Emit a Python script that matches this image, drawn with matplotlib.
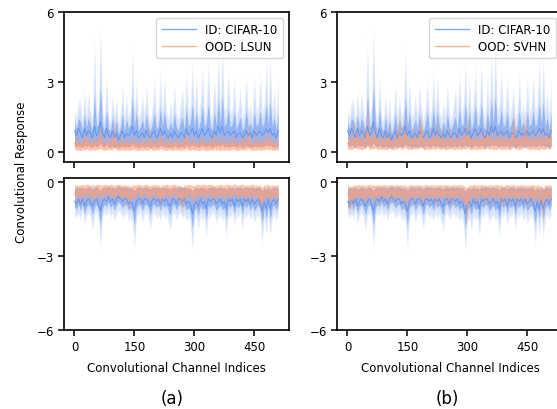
import numpy as np
import matplotlib
matplotlib.use("Agg")
import matplotlib.pyplot as plt

# channel indices (every 5th channel)
channels = np.arange(0, 515, 5)

# --- positive responses (top panels) ---
id_pos_mean = [
    0.9, 0.7, 1.0, 0.8, 0.6, 1.0, 0.7, 0.9, 0.8, 0.6,
    1.1, 0.7, 0.8, 1.3, 0.8, 0.6, 1.0, 0.7, 0.6, 0.9,
    0.6, 0.8, 0.5, 0.7, 0.9, 0.6, 0.8, 0.7, 0.8, 1.1,
    0.7, 0.9, 0.6, 0.7, 0.8, 0.6, 0.9, 0.7, 0.6, 0.8,
    0.9, 0.6, 0.7, 1.0, 0.7, 0.9, 0.7, 0.6, 0.8, 0.6,
    0.9, 0.7, 0.6, 0.8, 0.8, 0.6, 1.0, 0.7, 0.8, 1.0,
    0.7, 0.9, 0.6, 0.8, 1.0, 0.7, 0.8, 1.0, 0.7, 0.6,
    0.9, 0.7, 1.1, 0.8, 1.1, 0.7, 0.8, 0.9, 0.7, 0.8,
    0.9, 0.6, 0.8, 0.8, 0.6, 0.7, 0.9, 0.7, 0.8, 0.6,
    0.9, 0.7, 0.8, 0.9, 0.7, 0.8, 1.0, 0.8, 1.0, 0.7,
    0.8, 0.6, 0.9]
id_pos_peak = [
    1.9, 1.5, 2.3, 2.2, 1.4, 2.7, 1.6, 2.6, 1.8, 1.5,
    4.9, 1.7, 2.0, 5.5, 1.8, 1.5, 3.3, 1.6, 1.4, 2.6,
    1.5, 2.4, 1.3, 1.7, 3.0, 1.5, 2.5, 1.6, 1.9, 4.5,
    1.7, 3.2, 1.5, 1.8, 2.5, 1.6, 3.0, 1.7, 1.4, 2.0,
    3.2, 1.6, 1.9, 3.5, 1.7, 3.3, 1.8, 1.5, 2.2, 1.6,
    3.0, 1.7, 1.5, 2.1, 2.8, 1.6, 3.5, 1.8, 2.0, 4.0,
    1.7, 3.4, 1.6, 2.2, 3.8, 1.7, 2.0, 4.0, 1.8, 1.6,
    3.3, 1.9, 4.3, 2.0, 4.8, 1.8, 2.1, 3.6, 1.7, 1.9,
    3.3, 1.6, 2.0, 2.8, 1.5, 1.9, 3.4, 1.7, 2.1, 1.6,
    3.3, 1.8, 2.0, 3.4, 1.7, 2.2, 4.0, 1.9, 4.2, 1.8,
    2.7, 1.6, 3.2]

lsun_pos_mean = [
    0.35, 0.25, 0.3, 0.2, 0.35, 0.25, 0.45, 0.3, 0.2, 0.35,
    0.25, 0.3, 0.35, 0.55, 0.25, 0.2, 0.3, 0.35, 0.25, 0.3,
    0.6, 0.3, 0.2, 0.25, 0.35, 0.2, 0.3, 0.25, 0.2, 0.35,
    0.3, 0.25, 0.2, 0.3, 0.25, 0.35, 0.2, 0.3, 0.45, 0.25,
    0.2, 0.35, 0.25, 0.45, 0.3, 0.25, 0.2, 0.35, 0.25, 0.2,
    0.3, 0.25, 0.35, 0.2, 0.3, 0.25, 0.5, 0.3, 0.2, 0.35,
    0.25, 0.3, 0.2, 0.25, 0.35, 0.3, 0.2, 0.25, 0.3, 0.2,
    0.45, 0.25, 0.3, 0.2, 0.35, 0.25, 0.3, 0.2, 0.25, 0.35,
    0.3, 0.2, 0.25, 0.3, 0.35, 0.25, 0.3, 0.55, 0.25, 0.2,
    0.3, 0.25, 0.35, 0.2, 0.3, 0.25, 0.45, 0.3, 0.35, 0.25,
    0.2, 0.3, 0.25]
lsun_pos_peak = [
    0.9, 0.7, 0.8, 0.6, 0.9, 0.7, 1.1, 0.8, 0.6, 0.9,
    0.7, 0.8, 0.9, 1.45, 0.7, 0.6, 0.8, 0.9, 0.7, 0.8,
    1.7, 0.8, 0.6, 0.7, 0.9, 0.6, 0.8, 0.7, 0.6, 0.9,
    0.8, 0.7, 0.6, 0.8, 0.7, 0.9, 0.6, 0.8, 1.2, 0.7,
    0.6, 0.9, 0.7, 1.2, 0.8, 0.7, 0.6, 0.9, 0.7, 0.6,
    0.8, 0.7, 0.9, 0.6, 0.8, 0.7, 1.4, 0.8, 0.6, 0.9,
    0.7, 0.8, 0.6, 0.7, 0.9, 0.8, 0.6, 0.7, 0.8, 0.6,
    1.2, 0.7, 0.8, 0.6, 0.9, 0.7, 0.8, 0.6, 0.7, 0.9,
    0.8, 0.6, 0.7, 0.8, 0.9, 0.7, 0.8, 1.5, 0.7, 0.6,
    0.8, 0.7, 0.9, 0.6, 0.8, 0.7, 1.2, 0.8, 0.9, 0.7,
    0.6, 0.8, 0.7]

svhn_pos_mean = [
    0.35, 0.4, 0.3, 0.5, 0.6, 0.35, 0.45, 0.3, 0.4, 0.5,
    0.85, 0.35, 0.45, 0.4, 0.6, 0.3, 0.4, 0.35, 0.45, 0.3,
    0.4, 0.5, 0.35, 0.3, 0.45, 0.4, 0.75, 0.35, 0.45, 0.7,
    0.35, 0.4, 0.3, 0.45, 0.35, 0.5, 0.4, 0.8, 0.35, 0.3,
    0.45, 0.35, 0.4, 0.5, 0.3, 0.6, 0.35, 0.4, 0.45, 0.3,
    0.35, 0.4, 0.5, 0.3, 0.35, 0.45, 0.4, 0.3, 0.5, 0.35,
    0.7, 0.4, 0.3, 0.45, 0.35, 0.4, 0.3, 0.5, 0.35, 0.4,
    0.6, 0.35, 0.45, 0.3, 0.4, 0.35, 0.5, 0.3, 0.4, 0.35,
    0.45, 0.3, 0.4, 0.75, 0.35, 0.45, 0.3, 0.4, 0.5, 0.7,
    0.35, 0.4, 0.3, 0.45, 0.35, 0.4, 0.3, 0.5, 0.35, 0.4,
    0.55, 0.35, 0.6]
svhn_pos_peak = [
    0.9, 1.0, 0.8, 1.2, 1.6, 0.9, 1.1, 0.8, 1.0, 1.2,
    2.45, 0.9, 1.1, 1.0, 1.5, 0.8, 1.0, 0.9, 1.1, 0.8,
    1.0, 1.2, 0.9, 0.8, 1.1, 1.0, 2.0, 0.9, 1.1, 1.8,
    0.9, 1.0, 0.8, 1.1, 0.9, 1.2, 1.0, 2.2, 0.9, 0.8,
    1.1, 0.9, 1.0, 1.2, 0.8, 1.6, 0.9, 1.0, 1.1, 0.8,
    0.9, 1.0, 1.2, 0.8, 0.9, 1.1, 1.0, 0.8, 1.2, 0.9,
    1.9, 1.0, 0.8, 1.1, 0.9, 1.0, 0.8, 1.2, 0.9, 1.0,
    1.5, 0.9, 1.1, 0.8, 1.0, 0.9, 1.2, 0.8, 1.0, 0.9,
    1.1, 0.8, 1.0, 2.0, 0.9, 1.1, 0.8, 1.0, 1.2, 1.9,
    0.9, 1.0, 0.8, 1.1, 0.9, 1.0, 0.8, 1.2, 0.9, 1.0,
    1.4, 0.9, 1.0]

# --- negative responses (bottom panels) ---
id_neg_mean = [
    -0.8, -0.9, -0.7, -0.9, -0.7, -1.0, -0.8, -0.7, -0.8, -1.0,
    -0.8, -0.7, -0.9, -1.2, -0.8, -0.7, -0.8, -0.6, -0.8, -0.7,
    -0.9, -0.7, -0.6, -0.7, -0.8, -0.7, -0.7, -0.9, -0.8, -0.9,
    -1.2, -0.8, -0.7, -0.7, -0.9, -0.7, -0.7, -0.8, -1.0, -0.7,
    -0.7, -0.8, -0.7, -0.9, -0.7, -0.8, -0.7, -0.9, -1.0, -0.7,
    -0.7, -0.9, -0.7, -0.7, -0.8, -0.7, -0.9, -0.8, -0.9, -1.3,
    -0.9, -0.8, -1.0, -0.7, -0.9, -0.8, -1.1, -0.7, -0.8, -0.7,
    -0.7, -0.9, -0.8, -0.7, -0.9, -0.8, -1.1, -0.7, -0.8, -0.7,
    -1.0, -0.7, -0.8, -0.7, -1.0, -0.7, -0.8, -0.7, -0.9, -0.7,
    -0.9, -0.8, -0.7, -0.9, -1.2, -0.8, -1.1, -0.7, -1.1, -0.8,
    -0.7, -0.9, -0.7]
id_neg_peak = [
    -1.4, -1.5, -1.3, -1.6, -1.2, -1.8, -1.4, -1.3, -1.5, -2.0,
    -1.4, -1.3, -1.6, -2.8, -1.5, -1.3, -1.4, -1.2, -1.5, -1.3,
    -1.6, -1.4, -1.2, -1.3, -1.5, -1.4, -1.3, -1.6, -1.5, -1.7,
    -2.8, -1.5, -1.4, -1.3, -1.7, -1.4, -1.3, -1.5, -2.0, -1.4,
    -1.3, -1.5, -1.4, -1.6, -1.3, -1.5, -1.4, -1.7, -2.0, -1.4,
    -1.3, -1.6, -1.4, -1.3, -1.5, -1.4, -1.6, -1.5, -1.7, -2.9,
    -1.6, -1.5, -2.0, -1.4, -1.6, -1.5, -2.3, -1.4, -1.5, -1.3,
    -1.4, -1.7, -1.5, -1.4, -1.6, -1.5, -2.3, -1.4, -1.5, -1.3,
    -1.8, -1.4, -1.5, -1.3, -2.0, -1.4, -1.5, -1.3, -1.6, -1.4,
    -1.7, -1.5, -1.4, -1.6, -2.6, -1.5, -2.2, -1.4, -2.3, -1.5,
    -1.4, -1.6, -1.3]

lsun_neg_mean = [
    -0.5, -0.4, -0.55, -0.45, -0.4, -0.5, -0.35, -0.4, -0.5, -0.45,
    -0.55, -0.4, -0.35, -0.5, -0.45, -0.35, -0.4, -0.5, -0.35, -0.45,
    -0.5, -0.4, -0.35, -0.45, -0.5, -0.4, -0.55, -0.5, -0.65, -0.45,
    -0.5, -0.4, -0.35, -0.45, -0.5, -0.4, -0.35, -0.5, -0.55, -0.45,
    -0.35, -0.45, -0.5, -0.65, -0.4, -0.5, -0.35, -0.45, -0.5, -0.4,
    -0.35, -0.5, -0.45, -0.55, -0.75, -0.45, -0.5, -0.35, -0.45, -0.55,
    -0.5, -0.45, -0.35, -0.5, -0.4, -0.35, -0.5, -0.45, -0.35, -0.4,
    -0.6, -0.45, -0.5, -0.35, -0.45, -0.5, -0.4, -0.35, -0.5, -0.45,
    -0.35, -0.45, -0.5, -0.4, -0.35, -0.5, -0.45, -0.55, -0.4, -0.35,
    -0.5, -0.45, -0.55, -0.5, -0.8, -0.45, -0.5, -0.4, -0.6, -0.45,
    -0.5, -0.4, -0.55]
lsun_neg_peak = [
    -0.9, -0.8, -1.0, -0.9, -0.8, -0.9, -0.7, -0.8, -0.9, -0.8,
    -1.0, -0.8, -0.7, -0.9, -0.8, -0.7, -0.8, -0.9, -0.7, -0.8,
    -0.9, -0.8, -0.7, -0.8, -0.9, -0.8, -1.0, -0.9, -1.2, -0.8,
    -0.9, -0.8, -0.7, -0.8, -0.9, -0.8, -0.7, -0.9, -1.0, -0.8,
    -0.7, -0.8, -0.9, -1.2, -0.8, -0.9, -0.7, -0.8, -0.9, -0.8,
    -0.7, -0.9, -0.8, -1.0, -1.5, -0.8, -0.9, -0.7, -0.8, -1.0,
    -0.9, -0.8, -0.7, -0.9, -0.8, -0.7, -0.9, -0.8, -0.7, -0.8,
    -1.1, -0.8, -0.9, -0.7, -0.8, -0.9, -0.8, -0.7, -0.9, -0.8,
    -0.7, -0.8, -0.9, -0.8, -0.7, -0.9, -0.8, -1.0, -0.8, -0.7,
    -0.9, -0.8, -1.0, -0.9, -1.6, -0.8, -0.9, -0.8, -1.1, -0.8,
    -0.9, -0.8, -1.0]

svhn_neg_mean = [
    -0.5, -0.55, -0.75, -0.45, -0.5, -0.45, -0.4, -0.5, -0.45, -0.55,
    -0.45, -0.4, -0.5, -0.45, -0.55, -0.4, -0.45, -0.5, -0.4, -0.45,
    -0.5, -0.45, -0.4, -0.5, -0.45, -0.4, -0.5, -0.45, -0.5, -0.55,
    -0.6, -0.45, -0.4, -0.5, -0.45, -0.4, -0.5, -0.45, -0.55, -0.4,
    -0.45, -0.5, -0.4, -0.45, -0.55, -0.45, -0.4, -0.5, -0.45, -0.4,
    -0.5, -0.45, -0.55, -0.4, -0.45, -0.5, -0.4, -0.45, -0.55, -0.6,
    -0.9, -0.45, -0.5, -0.4, -0.45, -0.5, -0.45, -0.4, -0.5, -0.45,
    -0.55, -0.4, -0.45, -0.5, -0.45, -0.4, -0.5, -0.45, -0.65, -0.45,
    -0.4, -0.5, -0.45, -0.4, -0.55, -0.45, -0.5, -0.4, -0.45, -0.5,
    -0.55, -0.45, -0.5, -0.4, -0.6, -0.45, -0.5, -0.65, -0.85, -0.45,
    -0.5, -0.4, -0.55]
svhn_neg_peak = [
    -1.0, -1.1, -1.45, -0.9, -1.0, -0.9, -0.8, -1.0, -0.9, -1.1,
    -0.9, -0.8, -1.0, -0.9, -1.1, -0.8, -0.9, -1.0, -0.8, -0.9,
    -1.0, -0.9, -0.8, -1.0, -0.9, -0.8, -1.0, -0.9, -1.0, -1.1,
    -1.2, -0.9, -0.8, -1.0, -0.9, -0.8, -1.0, -0.9, -1.1, -0.8,
    -0.9, -1.0, -0.8, -0.9, -1.1, -0.9, -0.8, -1.0, -0.9, -0.8,
    -1.0, -0.9, -1.1, -0.8, -0.9, -1.0, -0.8, -0.9, -1.1, -1.2,
    -2.0, -0.9, -1.0, -0.8, -0.9, -1.0, -0.9, -0.8, -1.0, -0.9,
    -1.1, -0.8, -0.9, -1.0, -0.9, -0.8, -1.0, -0.9, -1.3, -0.9,
    -0.8, -1.0, -0.9, -0.8, -1.1, -0.9, -1.0, -0.8, -0.9, -1.0,
    -1.1, -0.9, -1.0, -0.8, -1.2, -0.9, -1.0, -1.3, -1.8, -0.9,
    -1.0, -0.8, -1.1]

ID_COLOR = "#6495ED"
OOD_COLOR = "#FF9F78"

plt.rcParams["font.size"] = 8.5


def draw_band(ax, mean, peak, color, core_alpha, label=None):
    mean = np.asarray(mean)
    peak = np.asarray(peak)
    base = mean * 0.3
    # dense core band, then faint layers fading out towards the extremes
    ax.fill_between(channels, base, mean + 0.35 * (peak - mean),
                    color=color, alpha=core_alpha, lw=0)
    for k in (0.6, 0.85, 1.0):
        ax.fill_between(channels, base, mean + k * (peak - mean),
                        color=color, alpha=0.11, lw=0)
    ax.plot(channels, mean, color=color, lw=0.7, label=label)


def style_axis(ax, top):
    ax.set_xlim(-25.5, 536.5)
    ax.set_xticks([0, 150, 300, 450])
    if top:
        ax.set_ylim(-0.45, 6)
        ax.set_yticks([0, 3, 6])
        ax.tick_params(axis="x", labelbottom=False)
    else:
        ax.set_ylim(-6, 0.15)
        ax.set_yticks([-6, -3, 0])
    for s in ax.spines.values():
        s.set_linewidth(1.2)
    ax.tick_params(width=1.1, length=4)


fig = plt.figure(figsize=(5.57, 4.1), dpi=100)

lefts = [64.3 / 557, 337.3 / 557]
w = 224.5 / 557
top_ax = [fig.add_axes([l, 1 - 163.3 / 410, w, 150.6 / 410]) for l in lefts]
bot_ax = [fig.add_axes([l, 1 - 330.7 / 410, w, 151.7 / 410]) for l in lefts]

oods = [("OOD: LSUN", lsun_pos_mean, lsun_pos_peak, lsun_neg_mean, lsun_neg_peak),
        ("OOD: SVHN", svhn_pos_mean, svhn_pos_peak, svhn_neg_mean, svhn_neg_peak)]

for i, (name, pm, pp, nm, npk) in enumerate(oods):
    ax = top_ax[i]
    draw_band(ax, id_pos_mean, id_pos_peak, ID_COLOR, 0.55, "ID: CIFAR-10")
    draw_band(ax, pm, pp, OOD_COLOR, 0.45, name)
    style_axis(ax, True)
    leg = ax.legend(loc="upper right", fontsize=8.5, handlelength=2.9,
                    borderpad=0.45, labelspacing=0.35)
    for h in leg.get_lines():
        h.set_alpha(0.8)
        h.set_linewidth(1.0)

    ax = bot_ax[i]
    draw_band(ax, id_neg_mean, id_neg_peak, ID_COLOR, 0.55)
    draw_band(ax, nm, npk, OOD_COLOR, 0.45)
    style_axis(ax, False)

fig.text(22 / 557, 1 - 172 / 410, "Convolutional Response", rotation=90,
         ha="center", va="center", fontsize=8.5)
for cx in (176, 450):
    fig.text(cx / 557, 1 - 369 / 410, "Convolutional Channel Indices",
             ha="center", va="center", fontsize=8.5)
for cx, tag in [(172, "(a)"), (447, "(b)")]:
    fig.text(cx / 557, 1 - 399 / 410, tag, ha="center", va="center", fontsize=12)

fig.savefig("out.png", dpi=100)
